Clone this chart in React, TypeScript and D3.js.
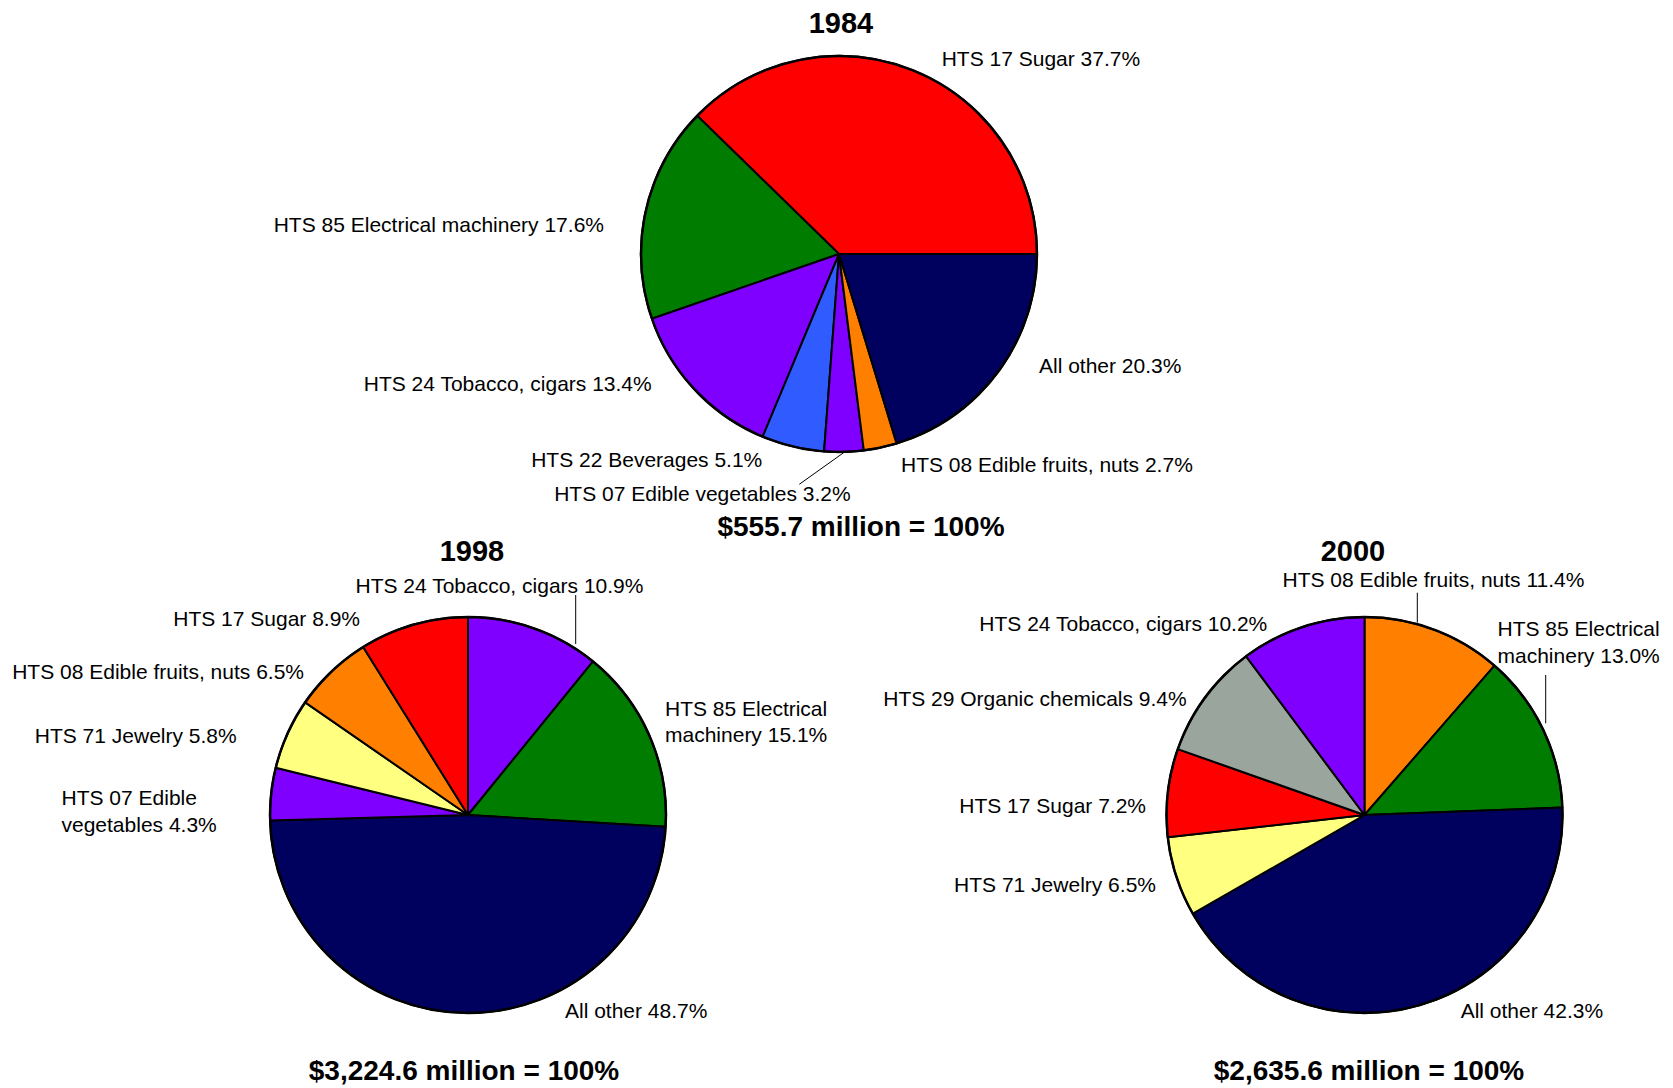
import React from "react";
import * as d3 from "d3";

// ---------- DATA ----------
const COLORS = {
  red: "#ff0000",
  green: "#007d00",
  purple: "#8000ff",
  blue: "#2f5bff",
  orange: "#ff8000",
  navy: "#00005e",
  yellow: "#ffff80",
  gray: "#9aa59e",
};

// 1984 (listed counter-clockwise from 3 o'clock)
const cats1984 = [
  "HTS 17 Sugar",
  "HTS 85 Electrical machinery",
  "HTS 24 Tobacco, cigars",
  "HTS 22 Beverages",
  "HTS 07 Edible vegetables",
  "HTS 08 Edible fruits, nuts",
  "All other",
];
const vals1984 = [37.7, 17.6, 13.4, 5.1, 3.2, 2.7, 20.3];
const cols1984 = ["red", "green", "purple", "blue", "purple", "orange", "navy"];

// 1998 (listed clockwise from 12 o'clock)
const cats1998 = [
  "HTS 24 Tobacco, cigars",
  "HTS 85 Electrical machinery",
  "All other",
  "HTS 07 Edible vegetables",
  "HTS 71 Jewelry",
  "HTS 08 Edible fruits, nuts",
  "HTS 17 Sugar",
];
const vals1998 = [10.9, 15.1, 48.7, 4.3, 5.8, 6.5, 8.9];
const cols1998 = ["purple", "green", "navy", "purple", "yellow", "orange", "red"];

// 2000 (listed clockwise from 12 o'clock)
const cats2000 = [
  "HTS 08 Edible fruits, nuts",
  "HTS 85 Electrical machinery",
  "All other",
  "HTS 71 Jewelry",
  "HTS 17 Sugar",
  "HTS 29 Organic chemicals",
  "HTS 24 Tobacco, cigars",
];
const vals2000 = [11.4, 13.0, 42.3, 6.5, 7.2, 9.4, 10.2];
const cols2000 = ["orange", "green", "navy", "yellow", "red", "gray", "purple"];

const titles = ["1984", "1998", "2000"];
const totals = ["$555.7 million = 100%", "$3,224.6 million = 100%", "$2,635.6 million = 100%"];

// ---------- LAYOUT ----------
type LabelPos = { x: number; y: number; anchor: "start" | "end"; wrap?: number };

const FONT = "'Liberation Sans', Arial, sans-serif";
const R = 198;

const layout = [
  {
    cx: 839, cy: 254, start: Math.PI / 2, dir: -1,
    title: { x: 841, y: 33 }, total: { x: 861, y: 536 },
    labels: [
      { x: 941.7, y: 65.7, anchor: "start" },
      { x: 604, y: 232.3, anchor: "end" },
      { x: 651.7, y: 391, anchor: "end" },
      { x: 762.3, y: 466.7, anchor: "end" },
      { x: 850.7, y: 500.7, anchor: "end" },
      { x: 901, y: 472.3, anchor: "start" },
      { x: 1039, y: 372.7, anchor: "start" },
    ] as LabelPos[],
    leaders: [[799.3, 484.3, 845, 451.7]],
  },
  {
    cx: 468, cy: 815, start: 0, dir: 1,
    title: { x: 472, y: 561 }, total: { x: 464, y: 1080 },
    labels: [
      { x: 355.5, y: 592.7, anchor: "start" },
      { x: 665, y: 715.7, anchor: "start", wrap: 3 },
      { x: 565, y: 1017.7, anchor: "start" },
      { x: 61.5, y: 805, anchor: "start", wrap: 3 },
      { x: 236.7, y: 743.3, anchor: "end" },
      { x: 304, y: 679, anchor: "end" },
      { x: 360, y: 625.7, anchor: "end" },
    ] as LabelPos[],
    leaders: [[575.7, 595, 575.7, 644]],
  },
  {
    cx: 1364.5, cy: 815, start: 0, dir: 1,
    title: { x: 1353, y: 561 }, total: { x: 1369, y: 1080 },
    labels: [
      { x: 1282.5, y: 586.7, anchor: "start" },
      { x: 1497.5, y: 636, anchor: "start", wrap: 3 },
      { x: 1460.7, y: 1017.7, anchor: "start" },
      { x: 1156, y: 891.7, anchor: "end" },
      { x: 1146, y: 813.3, anchor: "end" },
      { x: 1186.7, y: 705.7, anchor: "end" },
      { x: 1267.3, y: 630.7, anchor: "end" },
    ] as LabelPos[],
    leaders: [
      [1417.3, 592.7, 1417.3, 622.7],
      [1545.7, 675, 1545.7, 723.3],
    ],
  },
];

const datasets = [
  { cats: cats1984, vals: vals1984, cols: cols1984 },
  { cats: cats1998, vals: vals1998, cols: cols1998 },
  { cats: cats2000, vals: vals2000, cols: cols2000 },
];

function Pie({ idx }: { idx: number }) {
  const d = datasets[idx];
  const L = layout[idx];
  const pie = d3
    .pie<number>()
    .sort(null)
    .value((v) => v)
    .startAngle(L.start)
    .endAngle(L.start + L.dir * 2 * Math.PI);
  const arcs = pie(d.vals);
  const arc = d3.arc<d3.PieArcDatum<number>>().innerRadius(0).outerRadius(R);

  return (
    <g>
      <g transform={`translate(${L.cx},${L.cy})`}>
        {arcs.map((a, i) => (
          <path
            key={i}
            d={arc(a) || ""}
            fill={(COLORS as any)[d.cols[i]]}
            stroke="#000"
            strokeWidth={2}
            strokeLinejoin="round"
          />
        ))}
        <circle r={R} fill="none" stroke="#000" strokeWidth={2.5} />
      </g>
      <text
        x={L.title.x}
        y={L.title.y}
        textAnchor="middle"
        fontFamily={FONT}
        fontWeight="bold"
        fontSize={29}
      >
        {titles[idx]}
      </text>
      <text
        x={L.total.x}
        y={L.total.y}
        textAnchor="middle"
        fontFamily={FONT}
        fontWeight="bold"
        fontSize={28}
      >
        {totals[idx]}
      </text>
      {L.leaders.map((ln, i) => (
        <line key={i} x1={ln[0]} y1={ln[1]} x2={ln[2]} y2={ln[3]} stroke="#000" strokeWidth={1} />
      ))}
      {d.cats.map((c, i) => {
        const lp = L.labels[i];
        const full = `${c} ${d.vals[i].toFixed(1)}%`;
        const words = full.split(" ");
        const lines = lp.wrap
          ? [words.slice(0, lp.wrap).join(" "), words.slice(lp.wrap).join(" ")]
          : [full];
        return (
          <text
            key={i}
            x={lp.x}
            y={lp.y}
            textAnchor={lp.anchor}
            fontFamily={FONT}
            fontSize={21}
            fill="#000"
          >
            {lines.map((t, j) => (
              <tspan key={j} x={lp.x} dy={j === 0 ? 0 : 26.5}>
                {t}
              </tspan>
            ))}
          </text>
        );
      })}
    </g>
  );
}

export default function App() {
  return (
    <svg
      width={1673}
      height={1088}
      viewBox="0 0 1673 1088"
      style={{ position: "absolute", left: 0, top: 0, background: "#fff", display: "block" }}
    >
      <rect x={0} y={0} width={1673} height={1088} fill="#fff" />
      <Pie idx={0} />
      <Pie idx={1} />
      <Pie idx={2} />
    </svg>
  );
}
